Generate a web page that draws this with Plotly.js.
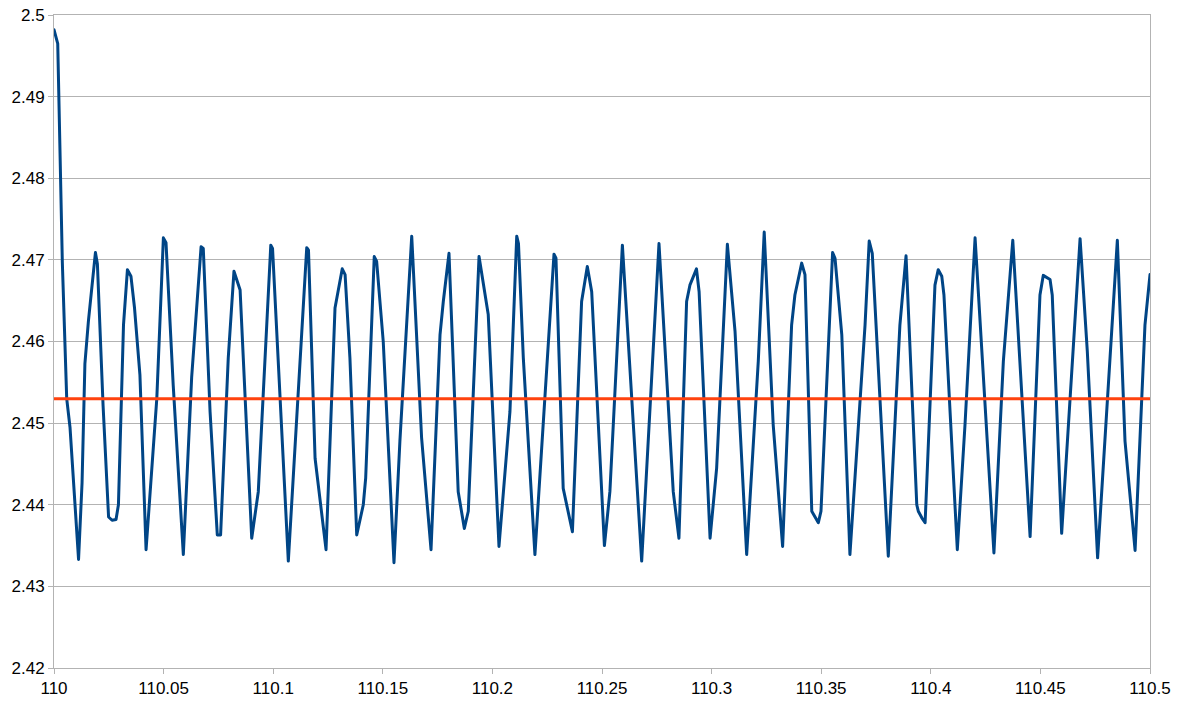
<!DOCTYPE html>
<html>
<head>
<meta charset="utf-8">
<script src="https://cdn.plot.ly/plotly-3.0.1.min.js"></script>
<style>
html,body{margin:0;padding:0;background:#fff;}
#chart{width:1181px;height:706px;}
#chart .js-line{stroke-linejoin:round !important;stroke-linecap:round;}
</style>
</head>
<body>
<div id="chart"></div>
<script>
const signalX = [
110.0000,110.0017,110.0038,110.0058,110.0073,110.0096,110.0112,110.0128,110.0141,110.0157,
110.0189,110.0198,110.0224,110.0249,110.0265,110.0283,110.0294,110.0317,110.0335,110.0351,
110.0367,110.0392,110.0420,110.0469,110.0499,110.0511,110.0544,110.0590,110.0628,110.0671,
110.0681,110.0712,110.0745,110.0760,110.0795,110.0821,110.0849,110.0902,110.0932,110.0989,
110.0997,110.1069,110.1153,110.1161,110.1191,110.1241,110.1282,110.1315,110.1328,110.1350,
110.1381,110.1411,110.1422,110.1461,110.1472,110.1502,110.1551,110.1578,110.1632,110.1677,
110.1720,110.1761,110.1776,110.1802,110.1844,110.1872,110.1890,110.1939,110.1981,110.2030,
110.2080,110.2111,110.2119,110.2141,110.2194,110.2281,110.2290,110.2323,110.2365,110.2407,
110.2433,110.2453,110.2511,110.2536,110.2593,110.2681,110.2760,110.2825,110.2851,110.2886,
110.2901,110.2931,110.2943,110.2993,110.3023,110.3072,110.3107,110.3160,110.3213,110.3240,
110.3281,110.3324,110.3365,110.3380,110.3411,110.3426,110.3457,110.3487,110.3499,110.3552,
110.3563,110.3594,110.3631,110.3700,110.3719,110.3733,110.3806,110.3859,110.3887,110.3936,
110.3943,110.3959,110.3974,110.4019,110.4034,110.4050,110.4060,110.4121,110.4156,110.4202,
110.4288,110.4331,110.4374,110.4453,110.4498,110.4513,110.4529,110.4544,110.4554,110.4597,
110.4681,110.4714,110.4761,110.4851,110.4886,110.4932,110.4977,110.5000
];
const signalY = [
2.4982,2.4965,2.4697,2.4530,2.4495,2.4401,2.4333,2.4427,2.4573,2.4625,
2.4709,2.4695,2.4521,2.4385,2.4381,2.4382,2.4400,2.4620,2.4688,2.4680,
2.4642,2.4559,2.4345,2.4530,2.4727,2.4721,2.4546,2.4339,2.4556,2.4716,
2.4714,2.4514,2.4363,2.4363,2.4580,2.4686,2.4663,2.4359,2.4416,2.4718,
2.4714,2.4331,2.4715,2.4712,2.4457,2.4345,2.4641,2.4689,2.4682,2.4580,
2.4363,2.4400,2.4433,2.4704,2.4698,2.4600,2.4329,2.4478,2.4729,2.4482,
2.4345,2.4608,2.4649,2.4708,2.4416,2.4371,2.4392,2.4704,2.4633,2.4349,
2.4514,2.4729,2.4720,2.4580,2.4339,2.4707,2.4702,2.4420,2.4367,2.4649,
2.4692,2.4661,2.4350,2.4416,2.4718,2.4331,2.4720,2.4416,2.4359,2.4649,
2.4669,2.4689,2.4661,2.4359,2.4445,2.4719,2.4612,2.4339,2.4576,2.4734,
2.4498,2.4349,2.4620,2.4657,2.4696,2.4682,2.4392,2.4378,2.4392,2.4709,
2.4702,2.4608,2.4339,2.4620,2.4723,2.4708,2.4337,2.4620,2.4705,2.4400,
2.4392,2.4384,2.4378,2.4669,2.4688,2.4680,2.4657,2.4345,2.4498,2.4727,
2.4341,2.4576,2.4724,2.4361,2.4657,2.4681,2.4678,2.4676,2.4657,2.4365,
2.4726,2.4588,2.4335,2.4724,2.4478,2.4344,2.4620,2.4682
];
// Reference level series
const levelX = [110, 110.5];
const levelY = [2.453, 2.453];

// Tick labels
const xTickVals = [110,110.05,110.1,110.15,110.2,110.25,110.3,110.35,110.4,110.45,110.5];
const xTickText = ["110","110.05","110.1","110.15","110.2","110.25","110.3","110.35","110.4","110.45","110.5"];
const yTickVals = [2.42,2.43,2.44,2.45,2.46,2.47,2.48,2.49,2.5];
const yTickText = ["2.42","2.43","2.44","2.45","2.46","2.47","2.48","2.49","2.5"];

const traces = [
  {x: signalX, y: signalY, type: 'scatter', mode: 'lines',
   line: {color: '#004586', width: 3}, showlegend: false},
  {x: levelX, y: levelY, type: 'scatter', mode: 'lines',
   line: {color: '#ff420e', width: 3}, showlegend: false}
];

const font = {family: '"Liberation Sans", Arial, sans-serif', size: 17, color: '#000'};
const layout = {
  width: 1181, height: 706,
  margin: {l: 54, r: 31, t: 15, b: 38, pad: 0},
  paper_bgcolor: '#fff', plot_bgcolor: '#fff',
  font: font,
  showlegend: false,
  xaxis: {
    range: [110, 110.5], tickmode: 'array', tickvals: xTickVals, ticktext: xTickText,
    showgrid: false,
    showline: true, linecolor: '#b3b3b3', linewidth: 1, mirror: true,
    ticks: 'outside', ticklen: 5, tickcolor: '#b3b3b3', tickwidth: 1,
    zeroline: false, tickfont: font
  },
  yaxis: {
    range: [2.42, 2.5], tickmode: 'array', tickvals: yTickVals, ticktext: yTickText,
    showgrid: true, gridcolor: '#b3b3b3', gridwidth: 1,
    showline: true, linecolor: '#b3b3b3', linewidth: 1, mirror: true,
    ticks: 'outside', ticklen: 5, tickcolor: '#b3b3b3', tickwidth: 1,
    zeroline: false, tickfont: font
  }
};
Plotly.newPlot('chart', traces, layout, {displayModeBar: false, staticPlot: true});
</script>
</body>
</html>
